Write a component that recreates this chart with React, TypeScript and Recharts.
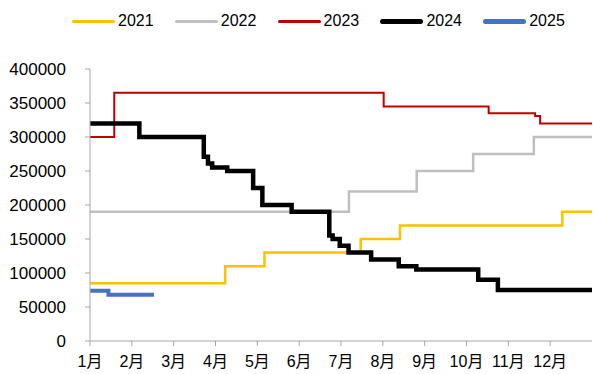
import { Line, LineChart, XAxis, YAxis } from "recharts";

// x values are months from Jan 1 (0 = 1月, 12 = year end)
const monthLabels = ["1月", "2月", "3月", "4月", "5月", "6月", "7月", "8月", "9月", "10月", "11月", "12月"];
const yTicks = [0, 50000, 100000, 150000, 200000, 250000, 300000, 350000, 400000];

const x2021 = [0, 3.23, 4.17, 6.47, 7.41, 11.29, 12];
const v2021 = [85000, 110000, 130000, 150000, 170000, 190000, 190000];

const x2022 = [0, 6.19, 7.81, 9.16, 10.61, 12];
const v2022 = [190000, 220000, 250000, 275000, 300000, 300000];

const x2023 = [0, 0.58, 7.02, 9.53, 10.64, 10.76, 12];
const v2023 = [300000, 365000, 345000, 335000, 331000, 320000, 320000];

const x2024 = [0, 1.18, 2.72, 2.82, 2.92, 3.28, 3.9, 4.12, 4.82, 5.72, 5.8, 5.97, 6.18, 6.72, 7.38, 7.8, 9.28, 9.75, 12];
const v2024 = [320000, 300000, 271000, 261000, 255000, 250000, 225000, 200000, 190000, 155000, 150000, 140000, 130000, 120000, 110000, 105000, 90000, 75000, 75000];

const x2025 = [0, 0.44, 1.53];
const v2025 = [74000, 68000, 68000];

const series = [
  { name: "2021", xs: x2021, vs: v2021, color: "#FFC000", width: 2.5 },
  { name: "2022", xs: x2022, vs: v2022, color: "#BFBFBF", width: 2.5 },
  { name: "2023", xs: x2023, vs: v2023, color: "#C00000", width: 2 },
  { name: "2024", xs: x2024, vs: v2024, color: "#000000", width: 4.5 },
  { name: "2025", xs: x2025, vs: v2025, color: "#4472C4", width: 4 },
];

const FONT = "'Liberation Sans', Arial, 'Noto Sans CJK SC', sans-serif";

export default function App() {
  return (
    <div style={{ position: "absolute", left: 0, top: 0, width: 593, height: 374, background: "#fff", fontFamily: FONT }}>
      {/* legend */}
      <div style={{ position: "absolute", top: 11, left: 72, display: "flex" }}>
        {series.map((s) => (
          <div key={s.name} style={{ width: 102.8, display: "flex", alignItems: "center", height: 20 }}>
            <div
              style={{
                width: 43,
                height: s.width > 3 ? 5 : 3,
                borderRadius: 3,
                background: s.color,
                marginRight: 3,
              }}
            />
            <span style={{ fontSize: 16, color: "#000" }}>{s.name}</span>
          </div>
        ))}
      </div>
      <LineChart width={593} height={374} margin={{ top: 69, right: 1, left: 0, bottom: 0 }}>
        <XAxis
          type="number"
          dataKey="x"
          domain={[0, 12]}
          ticks={[0, 1, 2, 3, 4, 5, 6, 7, 8, 9, 10, 11]}
          tickFormatter={(v) => monthLabels[v]}
          height={33}
          stroke="#A6A6A6"
          tickSize={5}
          tickMargin={10}
          tick={{ fill: "#000", fontSize: 16, fontFamily: FONT }}
          allowDuplicatedCategory={false}
        />
        <YAxis
          type="number"
          domain={[0, 400000]}
          ticks={yTicks}
          width={90}
          stroke="#A6A6A6"
          tickSize={5}
          tickMargin={19}
          tick={{ fill: "#000", fontSize: 17, fontFamily: FONT }}
          interval={0}
        />
        {series.map((s) => (
          <Line
            key={s.name}
            data={s.xs.map((x, i) => ({ x, y: s.vs[i] }))}
            dataKey="y"
            name={s.name}
            type="stepAfter"
            stroke={s.color}
            strokeWidth={s.width}
            dot={false}
            activeDot={false}
            isAnimationActive={false}
          />
        ))}
      </LineChart>
    </div>
  );
}
